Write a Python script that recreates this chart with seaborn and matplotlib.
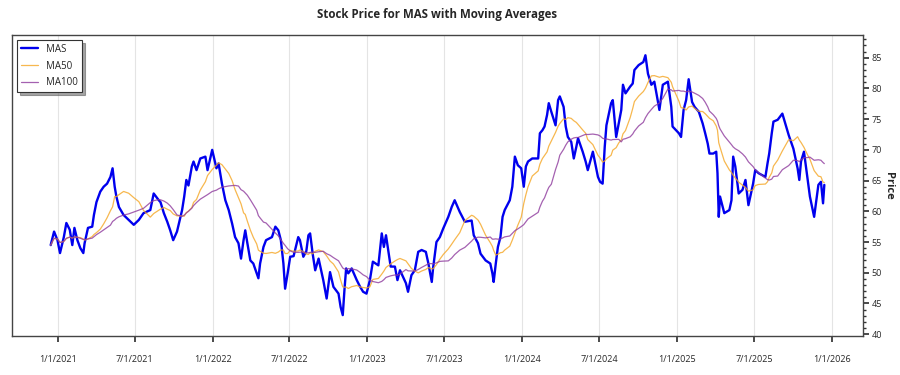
import pandas as pd
import numpy as np
import matplotlib
matplotlib.use("Agg")
import matplotlib.pyplot as plt
import matplotlib.dates as mdates
from matplotlib.ticker import MultipleLocator, FuncFormatter
import seaborn as sns

# closing prices (irregular dates, roughly weekly)
dates = [
    "2020-12-15", "2020-12-23", "2020-12-31", "2021-01-06", "2021-01-15", "2021-01-21", "2021-01-29", "2021-02-04",
    "2021-02-09", "2021-02-16", "2021-02-23", "2021-03-02", "2021-03-05", "2021-03-13", "2021-03-23", "2021-03-27",
    "2021-04-02", "2021-04-11", "2021-04-19", "2021-04-27", "2021-05-05", "2021-05-10", "2021-05-15", "2021-05-19",
    "2021-05-25", "2021-06-05", "2021-06-17", "2021-06-29", "2021-07-11", "2021-07-22", "2021-08-07", "2021-08-15",
    "2021-08-27", "2021-08-31", "2021-09-08", "2021-09-16", "2021-09-23", "2021-09-30", "2021-10-09", "2021-10-21",
    "2021-10-26", "2021-10-31", "2021-11-05", "2021-11-13", "2021-11-17", "2021-11-24", "2021-12-03", "2021-12-15",
    "2021-12-20", "2021-12-31", "2022-01-10", "2022-01-15", "2022-01-23", "2022-01-31", "2022-02-08", "2022-02-16",
    "2022-02-23", "2022-03-03", "2022-03-09", "2022-03-15", "2022-03-19", "2022-03-24", "2022-03-31", "2022-04-07",
    "2022-04-15", "2022-04-19", "2022-04-23", "2022-05-01", "2022-05-07", "2022-05-21", "2022-05-29", "2022-06-05",
    "2022-06-11", "2022-06-17", "2022-06-21", "2022-06-27", "2022-07-03", "2022-07-11", "2022-07-22", "2022-07-26",
    "2022-08-03", "2022-08-10", "2022-08-15", "2022-08-19", "2022-08-25", "2022-08-31", "2022-09-08", "2022-09-19",
    "2022-09-27", "2022-10-05", "2022-10-13", "2022-10-25", "2022-10-30", "2022-11-04", "2022-11-08", "2022-11-12",
    "2022-11-17", "2022-11-25", "2022-12-07", "2022-12-15", "2022-12-22", "2022-12-30", "2023-01-07", "2023-01-14",
    "2023-01-27", "2023-02-04", "2023-02-09", "2023-02-14", "2023-02-25", "2023-03-07", "2023-03-13", "2023-03-19",
    "2023-04-02", "2023-04-07", "2023-04-15", "2023-04-23", "2023-05-01", "2023-05-09", "2023-05-19", "2023-05-25",
    "2023-06-02", "2023-06-05", "2023-06-13", "2023-06-21", "2023-06-29", "2023-07-11", "2023-07-19", "2023-07-26",
    "2023-08-07", "2023-08-19", "2023-09-04", "2023-09-09", "2023-09-19", "2023-09-25", "2023-10-07", "2023-10-18",
    "2023-10-23", "2023-10-26", "2023-10-31", "2023-11-05", "2023-11-11", "2023-11-16", "2023-11-21", "2023-12-03",
    "2023-12-09", "2023-12-15", "2023-12-22", "2023-12-30", "2024-01-05", "2024-01-10", "2024-01-15", "2024-01-25",
    "2024-02-08", "2024-02-12", "2024-02-18", "2024-02-23", "2024-02-29", "2024-03-04", "2024-03-10", "2024-03-20",
    "2024-03-26", "2024-03-30", "2024-04-08", "2024-04-13", "2024-04-18", "2024-04-26", "2024-05-02", "2024-05-08",
    "2024-05-12", "2024-05-23", "2024-05-30", "2024-06-04", "2024-06-16", "2024-06-28", "2024-07-03", "2024-07-09",
    "2024-07-14", "2024-07-18", "2024-07-29", "2024-08-02", "2024-08-10", "2024-08-16", "2024-08-22", "2024-08-26",
    "2024-09-01", "2024-09-12", "2024-09-18", "2024-09-22", "2024-10-02", "2024-10-13", "2024-10-18", "2024-10-24",
    "2024-11-01", "2024-11-08", "2024-11-20", "2024-11-28", "2024-12-10", "2024-12-18", "2024-12-21", "2025-01-05",
    "2025-01-10", "2025-01-16", "2025-01-22", "2025-01-28", "2025-02-05", "2025-02-11", "2025-02-21", "2025-03-02",
    "2025-03-08", "2025-03-14", "2025-03-18", "2025-03-27", "2025-04-03", "2025-04-06", "2025-04-09", "2025-04-12",
    "2025-04-22", "2025-05-04", "2025-05-09", "2025-05-13", "2025-05-18", "2025-05-26", "2025-06-04", "2025-06-11",
    "2025-06-18", "2025-06-29", "2025-07-04", "2025-07-12", "2025-07-28", "2025-08-02", "2025-08-06", "2025-08-12",
    "2025-08-16", "2025-08-26", "2025-09-06", "2025-09-21", "2025-10-02", "2025-10-12", "2025-10-16", "2025-10-20",
    "2025-10-27", "2025-11-04", "2025-11-10", "2025-11-20", "2025-11-30", "2025-12-06", "2025-12-11", "2025-12-14",
]

prices = [
    54.5, 56.7, 55.3, 53.2, 55.8, 58.1, 57.0, 54.5,
    57.3, 55.3, 54.0, 53.2, 54.8, 57.3, 57.5, 59.4,
    61.5, 63.2, 64.0, 64.5, 65.6, 67.0, 64.0, 62.4,
    60.7, 59.4, 58.6, 57.8, 58.6, 59.7, 60.2, 62.9,
    61.8, 61.5, 59.7, 58.3, 56.9, 55.3, 56.7, 60.2,
    62.4, 65.1, 64.2, 67.3, 68.1, 66.7, 68.6, 68.9,
    66.7, 70.0, 67.0, 67.8, 64.5, 61.8, 60.2, 58.0,
    55.8, 54.8, 52.3, 55.3, 56.9, 54.8, 52.0, 51.5,
    49.9, 49.1, 51.5, 54.2, 55.3, 55.8, 57.5, 56.9,
    55.3, 51.5, 47.4, 49.9, 52.6, 52.7, 55.8, 55.3,
    52.6, 53.5, 56.1, 56.4, 53.1, 50.4, 52.3, 48.8,
    45.8, 50.1, 47.7, 46.6, 44.4, 43.1, 47.2, 50.7,
    49.9, 50.7, 48.8, 47.7, 46.9, 46.6, 48.8, 51.8,
    51.2, 56.4, 54.2, 56.1, 51.0, 51.0, 48.8, 50.4,
    48.3, 46.9, 49.6, 50.4, 53.4, 53.7, 53.4, 51.5,
    48.5, 50.7, 55.0, 55.8, 57.2, 59.1, 60.7, 61.8,
    59.9, 58.3, 58.5, 56.1, 54.8, 53.1, 52.0, 51.5,
    49.9, 48.5, 51.5, 54.2, 55.8, 59.1, 60.2, 61.8,
    64.0, 68.9, 67.5, 67.0, 64.0, 67.3, 68.1, 68.6,
    68.6, 72.7, 73.2, 73.8, 75.7, 77.6, 76.2, 74.0,
    78.1, 78.7, 77.0, 73.8, 72.1, 71.3, 68.6, 70.5,
    71.9, 69.7, 68.1, 66.7, 69.7, 65.6, 64.8, 64.5,
    70.5, 74.0, 77.6, 78.1, 72.1, 74.3, 76.5, 80.6,
    79.2, 80.3, 80.8, 83.0, 83.8, 84.3, 85.4, 82.4,
    80.6, 81.1, 76.5, 80.6, 81.1, 77.0, 73.8, 72.7,
    72.1, 76.5, 78.1, 81.5, 77.8, 77.0, 76.2, 74.3,
    72.7, 71.0, 69.4, 69.4, 69.7, 66.2, 59.1, 62.4,
    59.7, 60.2, 61.8, 68.9, 67.3, 62.9, 63.5, 65.1,
    61.0, 64.5, 66.7, 66.2, 65.6, 67.8, 69.4, 72.7,
    74.6, 74.9, 75.9, 72.4, 70.2, 67.0, 65.1, 68.1,
    69.7, 65.6, 62.4, 59.1, 64.3, 64.8, 61.3, 64.3,
]

ticker = "MAS"
ma_windows = {"MA50": "70D", "MA100": "145D"}   # 50 / 100 trading days in calendar days
line_colors = {"MAS": "#0000ee", "MA50": "#f5a623", "MA100": "#8e3a9d"}


def date_label(x, pos):
    d = mdates.num2date(x)
    return f"{d.month}/{d.day}/{d.year}"


def main():
    sns.set_theme(style="ticks")
    plt.rcParams['font.family'] = ['Open Sans', 'DejaVu Sans']

    df = pd.DataFrame({"Date": pd.to_datetime(dates), ticker: prices}).set_index("Date")
    for name, win in ma_windows.items():
        df[name] = df[ticker].rolling(win, min_periods=1).mean()
    df = df.reset_index()

    fig, ax = plt.subplots(figsize=(9, 3.75), dpi=100)
    fig.subplots_adjust(left=12/900, right=863/900, bottom=1-336/375, top=1-35/375)

    sns.lineplot(data=df, x="Date", y=ticker, ax=ax, color=line_colors["MAS"], linewidth=1.7,
                 label=ticker, estimator=None)
    sns.lineplot(data=df, x="Date", y="MA50", ax=ax, color=line_colors["MA50"], linewidth=0.9,
                 alpha=0.8, label="MA50", estimator=None)
    sns.lineplot(data=df, x="Date", y="MA100", ax=ax, color=line_colors["MA100"], linewidth=0.9,
                 alpha=0.8, label="MA100", estimator=None)

    ax.set_ylim(39.7, 88.7)
    ax.yaxis.tick_right()
    ax.yaxis.set_label_position("right")
    ax.yaxis.set_major_locator(MultipleLocator(5))
    ax.yaxis.set_minor_locator(MultipleLocator(1))
    ax.set_ylabel("Price", rotation=270, fontsize=8, fontweight="bold", labelpad=9)
    ax.set_xlabel("")

    ax.xaxis.set_major_locator(mdates.MonthLocator(bymonth=[1, 7]))
    ax.xaxis.set_major_formatter(FuncFormatter(date_label))
    ax.grid(axis="x", color="#e4e4e4", linewidth=0.8)
    ax.grid(axis="y", visible=False)

    ax.tick_params(axis="x", labelsize=6.5, pad=10, length=4, color="#333333")
    ax.tick_params(axis="y", which="major", labelsize=6.5, length=4, pad=2, color="#333333")
    ax.tick_params(axis="y", which="minor", length=2, color="#333333")
    for s in ax.spines.values():
        s.set_color("#444444")
        s.set_linewidth(1.0)
        s.set_visible(True)

    ax.set_title("Stock Price for MAS with Moving Averages", fontsize=8.3, fontweight="bold", pad=12)

    leg = ax.legend(loc="upper left", fontsize=7, frameon=True, fancybox=False, shadow=True,
                    borderaxespad=0.5, handlelength=1.8, labelspacing=0.6)
    leg.get_frame().set_edgecolor("#333333")
    leg.get_frame().set_linewidth(0.8)

    fig.savefig("out.png", dpi=100)


if __name__ == "__main__":
    main()
